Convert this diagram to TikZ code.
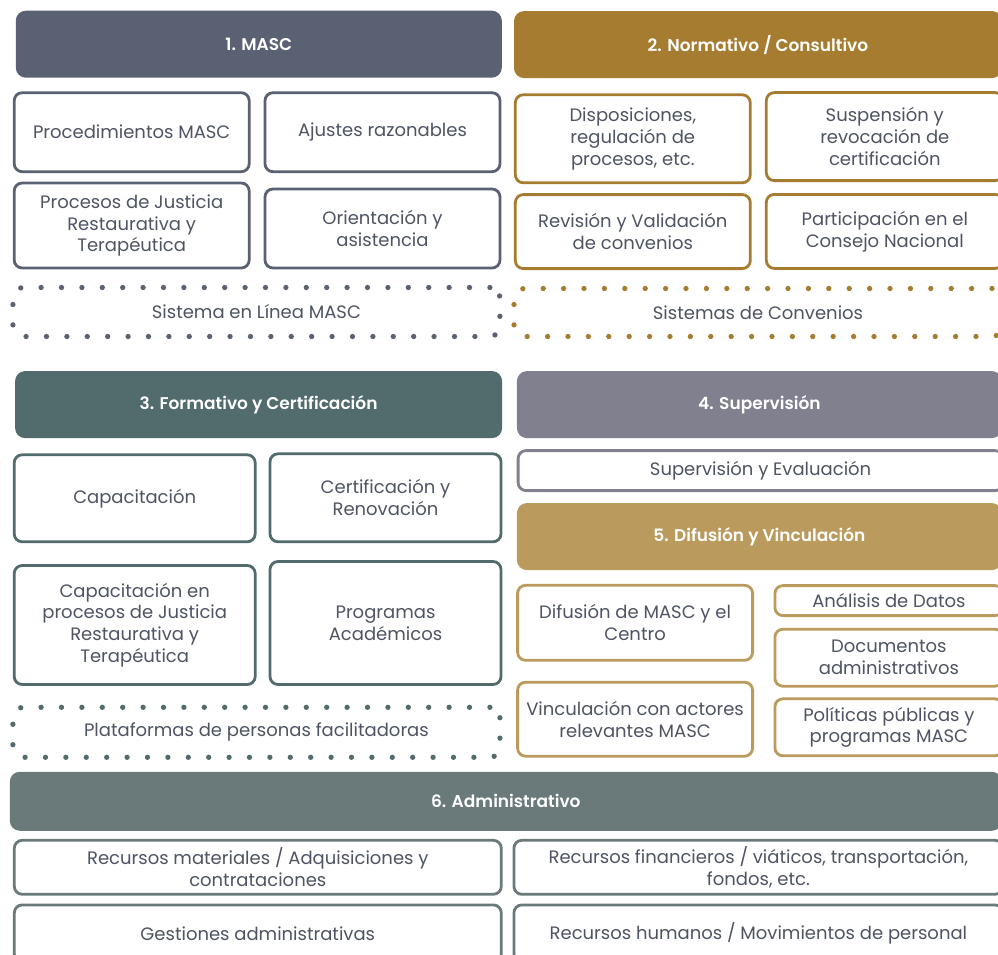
\documentclass[tikz,border=0pt]{standalone}
\usepackage{fontspec}
\setmainfont{Poppins}[BoldFont={Poppins SemiBold}]
\usepackage{tikz}

\definecolor{colmasc}{HTML}{5A6172}
\definecolor{colnorma}{HTML}{A67D30}
\definecolor{colforma}{HTML}{526C6E}
\definecolor{colsuper}{HTML}{80808F}
\definecolor{coldifus}{HTML}{BA9A5D}
\definecolor{coladmin}{HTML}{6A7A7B}
\definecolor{coltexto}{HTML}{4E5464}

\tikzset{
  titulo/.style={fill=#1, rounded corners=10pt, inner sep=0pt, text=white,
    font=\fontsize{17}{21}\selectfont\bfseries},
  caja/.style={draw=#1, line width=2.8pt, rounded corners=8pt, inner sep=0pt,
    align=center, text=coltexto, font=\fontsize{18}{21.8}\selectfont},
  puntos/.style={draw=#1, line width=5.3pt, line cap=round, rounded corners=10pt,
    dash pattern=on 0pt off 20.4pt, inner sep=0pt, align=center, text=coltexto,
    font=\fontsize{18}{21.8}\selectfont}
}

\begin{document}
\begin{tikzpicture}[x=1pt,y=-1pt]
\useasboundingbox (0,0) rectangle (998,955);
\clip (0,0) rectangle (998,955);
\fill[white] (0,0) rectangle (998,955);

% 1. MASC
\node[titulo=colmasc, minimum width=486, minimum height=67] (t1) at (258.8,44.2) {1. MASC};
\node[caja=colmasc, minimum width=235, minimum height=79] (proc) at (131.7,132.2) {Procedimientos MASC};
\node[caja=colmasc, minimum width=235, minimum height=79] (ajus) at (382.5,132.2) {Ajustes razonables};
\node[caja=colmasc, minimum width=235, minimum height=85] (just) at (131.7,225.5) {Procesos de Justicia\\Restaurativa y\\Terapéutica};
\node[caja=colmasc, minimum width=235, minimum height=79] (orie) at (382.5,228.5) {Orientación y\\asistencia};
\node[puntos=colmasc, minimum width=487, minimum height=49] (linea) at (256.4,312) {Sistema en Línea MASC};

% 2. Normativo / Consultivo
\node[titulo=colnorma, minimum width=488, minimum height=67] (t2) at (758,44.6) {2. Normativo / Consultivo};
\node[caja=colnorma, minimum width=235, minimum height=88] (disp) at (632.8,138.8) {Disposiciones,\\regulación de\\procesos, etc.};
\node[caja=colnorma, minimum width=237, minimum height=88] (susp) at (884.8,136.6) {Suspensión y\\revocación de\\certificación};
\node[caja=colnorma, minimum width=235, minimum height=74] (revi) at (632.8,231.6) {Revisión y Validación\\de convenios};
\node[caja=colnorma, minimum width=237, minimum height=74] (part) at (884.8,231.4) {Participación en el\\Consejo Nacional};
\node[puntos=colnorma, minimum width=488, minimum height=48] (conv) at (758,312.5) {Sistemas de Convenios};

% 3. Formativo y Certificación
\node[titulo=colforma, minimum width=487, minimum height=67] (t3) at (258.6,404.6) {3. Formativo y Certificación};
\node[caja=colforma, minimum width=241, minimum height=87] (capa) at (134.7,498.3) {Capacitación};
\node[caja=colforma, minimum width=231, minimum height=88] (cert) at (385.5,497.8) {Certificación y\\Renovación};
\node[caja=colforma, minimum width=241, minimum height=119] (capj) at (134.7,625) {Capacitación en\\procesos de Justicia\\Restaurativa y\\Terapéutica};
\node[caja=colforma, minimum width=231, minimum height=123] (prog) at (385.5,623) {Programas\\Académicos};
\node[puntos=colforma, minimum width=487, minimum height=50] (plat) at (256.4,732.3) {Plataformas de personas facilitadoras};

% 4. Supervisión
\node[titulo=colsuper, minimum width=485, minimum height=67] (t4) at (759.4,404.6) {4. Supervisión};
\node[caja=colsuper, minimum width=485, minimum height=40] (eval) at (760.6,470.6) {Supervisión y Evaluación};

% 5. Difusión y Vinculación
\node[titulo=coldifus, minimum width=485, minimum height=67] (t5) at (759.4,536.6) {5. Difusión y Vinculación};
\node[caja=coldifus, minimum width=235, minimum height=75] (difu) at (635.1,622.8) {Difusión de MASC y el\\Centro};
\node[caja=coldifus, minimum width=235, minimum height=74] (vinc) at (635.1,719.2) {Vinculación con actores\\relevantes MASC};
\node[caja=coldifus, minimum width=228, minimum height=30] (anal) at (888.9,600.6) {Análisis de Datos};
\node[caja=coldifus, minimum width=228, minimum height=57] (docu) at (888.9,657.7) {Documentos\\administrativos};
\node[caja=coldifus, minimum width=228, minimum height=57] (poli) at (888.9,727.3) {Políticas públicas y\\programas MASC};

% 6. Administrativo
\node[titulo=coladmin, minimum width=992, minimum height=59] (t6) at (505.8,801.3) {6. Administrativo};
\node[caja=coladmin, minimum width=487, minimum height=54] (recm) at (257.8,867.3) {Recursos materiales / Adquisiciones y\\contrataciones};
\node[caja=coladmin, minimum width=489, minimum height=54] (recf) at (758.4,867.3) {Recursos financieros / viáticos, transportación,\\fondos, etc.};
\node[caja=coladmin, minimum width=487, minimum height=57] (gest) at (257.8,933.4) {Gestiones administrativas};
\node[caja=coladmin, minimum width=489, minimum height=57] (rech) at (758.4,933.4) {Recursos humanos / Movimientos de personal};
\end{tikzpicture}
\end{document}
